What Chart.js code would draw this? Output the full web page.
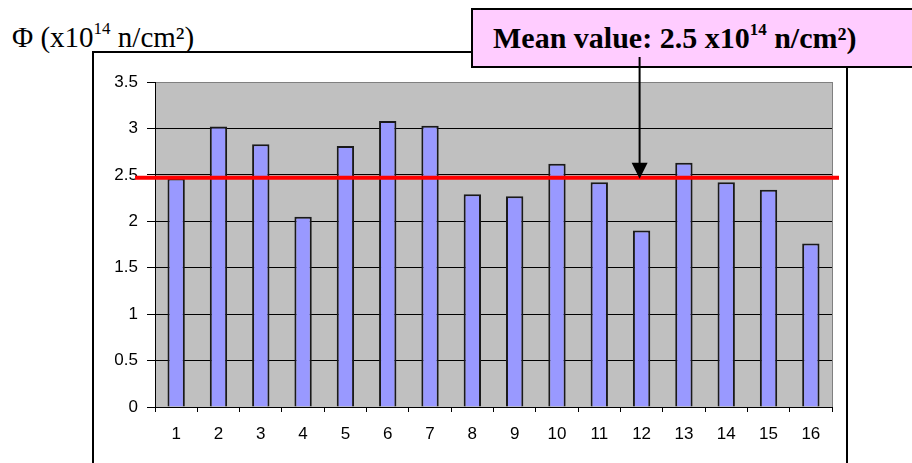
<!DOCTYPE html>
<html lang="en">
<head>
  <meta charset="UTF-8" />
  <title>Fluence per sample</title>
  <script src="https://cdn.jsdelivr.net/npm/chart.js"></script>
  <style>
    body { margin: 0; background: #fff; }
    .wrap { position: relative; width: 912px; height: 463px; overflow: hidden; }
    .ylabel {
      position: absolute; left: 12px; top: 23px;
      font-family: "Liberation Serif", "Times New Roman", serif; font-size: 29px; line-height: 1;
      white-space: nowrap; color: #000;
    }
    .meanbox {
      position: absolute; left: 471px; top: 8px; width: 460px; height: 56px;
      background: #ffccff; border: 2px solid #000;
      font-family: "Liberation Serif", "Times New Roman", serif; font-weight: bold; font-size: 30px;
      line-height: 56px; padding-left: 20px; white-space: nowrap; color: #000;
    }
    .sup { font-size: 17px; position: relative; top: -13px; }
    canvas { position: absolute; left: 0; top: 0; }
  </style>
</head>
<body>
  <div class="wrap">
    <div class="ylabel">Φ (x10<span class="sup">14</span> n/cm²)</div>
    <div class="meanbox">Mean value: 2.5 x10<span class="sup">14</span> n/cm²)</div>
    <canvas id="fluenceChart" width="912" height="463"></canvas>
  </div>

  <script>
    // sample numbers along the x axis
    const categories = ['1', '2', '3', '4', '5', '6', '7', '8', '9', '10', '11', '12', '13', '14', '15', '16'];
    // fluence in units of 1e14 n/cm2
    const fluence = [2.46, 3.02, 2.83, 2.05, 2.81, 3.08, 3.03, 2.29, 2.27, 2.62, 2.42, 1.90, 2.63, 2.42, 2.34, 1.76];
    // red mean line and where the arrow points
    const meanLine = 2.47;
    const arrowCategory = '12';
    const yMin = 0, yMax = 3.5, yStep = 0.5;

    const decor = {
      id: 'decor',
      beforeDraw(chart) {
        const { ctx, chartArea: a } = chart;
        ctx.save();
        ctx.fillStyle = '#c0c0c0';
        ctx.fillRect(a.left, a.top, a.right - a.left, a.bottom - a.top);
        // outer frame of the chart object
        ctx.strokeStyle = '#000';
        ctx.lineWidth = 2;
        ctx.beginPath();
        ctx.moveTo(472, 52); ctx.lineTo(93, 52); ctx.lineTo(93, 470);
        ctx.moveTo(847, 66); ctx.lineTo(847, 470);
        ctx.stroke();
        ctx.restore();
      },
      beforeDatasetsDraw(chart) {
        const { ctx, chartArea: a } = chart;
        ctx.save();
        ctx.strokeStyle = '#808080';
        ctx.lineWidth = 1;
        ctx.beginPath();
        ctx.moveTo(a.right + 0.5, a.top);
        ctx.lineTo(a.right + 0.5, a.bottom);
        ctx.stroke();
        ctx.restore();
      },
      afterDatasetsDraw(chart) {
        const { ctx, chartArea: a, scales } = chart;
        const y = scales.y.getPixelForValue(meanLine);
        const x = scales.x.getPixelForValue(categories.indexOf(arrowCategory)) - 2;
        ctx.save();
        ctx.strokeStyle = '#ff0000';
        ctx.lineWidth = 4;
        ctx.beginPath();
        ctx.moveTo(a.left - 20, y);
        ctx.lineTo(a.right + 7, y);
        ctx.stroke();
        // arrow from the label box down to the mean line
        ctx.strokeStyle = '#000';
        ctx.lineWidth = 2;
        ctx.beginPath();
        ctx.moveTo(x, 57);
        ctx.lineTo(x, y - 12);
        ctx.stroke();
        ctx.fillStyle = '#000';
        ctx.beginPath();
        ctx.moveTo(x - 8, y - 15);
        ctx.lineTo(x + 8, y - 15);
        ctx.lineTo(x, y + 1);
        ctx.closePath();
        ctx.fill();
        ctx.restore();
      }
    };

    const tickFont = { family: '"Liberation Sans", Arial, sans-serif', size: 17 };

    new Chart(document.getElementById('fluenceChart').getContext('2d'), {
      type: 'bar',
      data: {
        labels: categories,
        datasets: [{
          data: fluence,
          backgroundColor: '#9999ff',
          borderColor: '#1a1a1a',
          borderWidth: 2,
          categoryPercentage: 1,
          barPercentage: 0.41
        }]
      },
      options: {
        responsive: false,
        animation: false,
        layout: { padding: { left: 0, top: 82, right: 80, bottom: 0 } },
        plugins: { legend: { display: false }, tooltip: { enabled: false } },
        scales: {
          x: {
            grid: { drawOnChartArea: false, tickLength: 5, color: '#000', offset: true },
            border: { color: '#000', width: 1 },
            ticks: { color: '#000', font: tickFont, padding: 12, maxRotation: 0 },
            afterFit(s) { s.height = 56; }
          },
          y: {
            min: yMin,
            max: yMax,
            grid: {
              color: (c) => c.tick && c.tick.value === yMax ? '#808080' : '#000',
              tickColor: '#000',
              tickLength: 8
            },
            border: { color: '#000', width: 1 },
            ticks: { stepSize: yStep, color: '#000', font: tickFont, padding: 9, callback: (v) => String(v) },
            afterFit(s) { s.width = 155; }
          }
        }
      },
      plugins: [decor]
    });
  </script>
</body>
</html>
